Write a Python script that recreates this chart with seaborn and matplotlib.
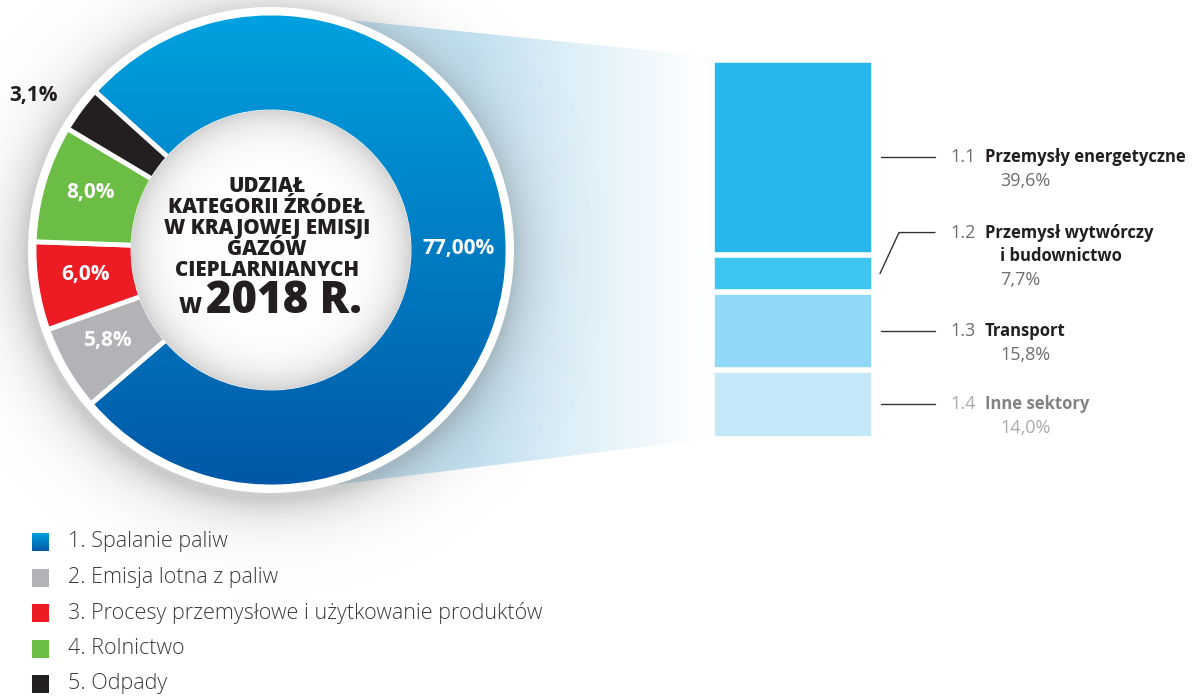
import numpy as np
import pandas as pd
import matplotlib
matplotlib.use("Agg")
import matplotlib.pyplot as plt
from matplotlib.patches import Rectangle, Polygon, Circle
from matplotlib.colors import to_rgb
import seaborn as sns

# Share of source categories in national GHG emissions, 2018 (%)
categories = ["1. Spalanie paliw", "2. Emisja lotna z paliw",
              "3. Procesy przemysłowe i użytkowanie produktów",
              "4. Rolnictwo", "5. Odpady"]
shares = [77.0, 5.8, 6.0, 8.0, 3.1]
share_labels = ["77,00%", "5,8%", "6,0%", "8,0%", "3,1%"]
category_colors = ["#0a8fd6", "#b1b3b6", "#ed1c24", "#6cbd45", "#231f20"]

# Fuel combustion split by sector (%)
sector_codes = ["1.1", "1.2", "1.3", "1.4"]
sector_names = [["Przemysły energetyczne"], ["Przemysł wytwórczy", "i budownictwo"],
                ["Transport"], ["Inne sektory"]]
sector_shares = [39.6, 7.7, 15.8, 14.0]
sector_labels = ["39,6%", "7,7%", "15,8%", "14,0%"]
sector_colors = ["#28b7ea", "#3ec6f2", "#8fd8f6", "#c6e9f9"]

title_lines = ["UDZIAŁ", "KATEGORII ŹRÓDEŁ", "W KRAJOWEJ EMISJI", "GAZÓW", "CIEPLARNIANYCH"]
title_prefix = "W"
title_year = "2018 R."

sns.set_theme(style="white")
plt.rcParams["font.family"] = ["Open Sans", "DejaVu Sans"]

W, H = 1199, 698
fig = plt.figure(figsize=(W / 100, H / 100), dpi=100)
ax = fig.add_axes([0, 0, 1, 1])


def Y(y):
    """Flip a top-down pixel row into the axes' bottom-up coordinate."""
    return H - y


CX, CY = 271, Y(250)
R_OUT, R_IN, R_RIM = 237, 138, 243

# --- funnel linking the donut with the sector bar -------------------------
funnel = Polygon([(300, Y(15)), (715, Y(57)), (715, Y(438)), (300, Y(489))],
                 closed=True, fc="none", ec="none")
ax.add_patch(funnel)
xs = np.linspace(300, 715, 400)
t = np.clip((xs - 470) / (705 - 470), 0, 1)
c0 = np.array(to_rgb("#c4e2f2"))
row = c0[None, :] + (1 - c0)[None, :] * t[:, None]
fimg = np.repeat(row[None, :, :], 2, axis=0)
im = ax.imshow(fimg, extent=(300, 715, Y(489), Y(15)), origin="upper",
               aspect="auto", zorder=0.1, interpolation="bilinear")
im.set_clip_path(funnel)

# --- soft drop shadow around the donut ------------------------------------
gx, gy = np.meshgrid(np.arange(0, 620), np.arange(0, 620))
r = np.hypot(gx - (CX - 2), gy - (250 + 6))
alpha = np.clip(0.32 * np.exp(-(r - R_RIM) / 22.0), 0, 0.32)
shadow = np.zeros((620, 620, 4))
shadow[..., :3] = 0.38
shadow[..., 3] = alpha
ax.imshow(shadow, extent=(0, 620, Y(620), Y(0)), origin="upper",
          aspect="auto", zorder=0.2, interpolation="bilinear")

ax.add_patch(Circle((CX, CY), R_RIM, fc="white", ec="none", zorder=0.3))

# --- donut ----------------------------------------------------------------
wedges, _ = ax.pie(shares, colors=category_colors, startangle=138,
                   counterclock=False, radius=R_OUT, center=(CX, CY),
                   wedgeprops=dict(width=R_OUT - R_IN, edgecolor="white",
                                   linewidth=3.5, zorder=1))

# vertical blue gradient for the fuel combustion slice
g = np.linspace(0, 1, 256)[:, None, None]
top, bot = np.array(to_rgb("#00a1e0")), np.array(to_rgb("#0058a7"))
bimg = top + (bot - top) * g
bim = ax.imshow(bimg, extent=(CX - R_OUT, CX + R_OUT, CY - R_OUT, CY + R_OUT),
                origin="upper", aspect="auto", zorder=0.9, interpolation="bilinear")
bim.set_clip_path(wedges[0])
wedges[0].set_facecolor("none")

# inner disc with a shaded rim
n = 400
dx, dy = np.meshgrid(np.linspace(-1, 1, n), np.linspace(-1, 1, n))
rr = np.hypot(dx, dy)
v = 1 - 0.17 * np.clip(rr, 0, 1) ** 7
dimg = np.dstack([v, v, v])
disc = Circle((CX, CY), R_IN + 2, fc="none", ec="none")
ax.add_patch(disc)
dim = ax.imshow(dimg, extent=(CX - R_IN - 2, CX + R_IN + 2, CY - R_IN - 2, CY + R_IN + 2),
                origin="upper", aspect="auto", zorder=2, interpolation="bilinear")
dim.set_clip_path(disc)

# slice value labels
for w, lab, val in zip(wedges, share_labels, shares):
    mid = np.deg2rad((w.theta1 + w.theta2) / 2)
    if val < 4:
        rad = 268
        ax.text(CX + rad * np.cos(mid) + 2, CY + rad * np.sin(mid) - 5, lab,
                ha="right", va="center", fontsize=15, fontweight="bold",
                color="#231f20", zorder=3)
    else:
        rad = 188
        ax.text(CX + rad * np.cos(mid), CY + rad * np.sin(mid) + 4, lab,
                ha="center", va="center", fontsize=15, fontweight="bold",
                color="white", zorder=3)

# centre title
tx = 267
for i, line in enumerate(title_lines):
    ax.text(tx, Y(186 + i * 21.2), line, ha="center", va="center",
            fontsize=14.8, fontweight="heavy", color="#231f20", zorder=3)
ax.text(202, Y(313), title_prefix, ha="right", va="baseline",
        fontsize=16, fontweight="heavy", color="#231f20", zorder=3)
ax.text(206, Y(313), title_year, ha="left", va="baseline",
        fontsize=31.5, fontweight="heavy", color="#231f20", zorder=3)

# --- stacked sector bar (seaborn) ------------------------------------------
bx0, bx1, by0, by1 = 712.2, 873.8, 60.2, 438.8
bax = fig.add_axes([bx0 / W, (H - by1) / H, (bx1 - bx0) / W, (by1 - by0) / H])
tops = np.cumsum(sector_shares[::-1])[::-1]
bars = pd.DataFrame({"grupa": ["1"] * len(sector_codes),
                     "sektor": sector_codes, "szczyt": tops})
sns.barplot(data=bars, x="grupa", y="szczyt", hue="sektor", hue_order=sector_codes,
            palette=sector_colors, dodge=False, width=1, saturation=1,
            edgecolor="white", linewidth=4, legend=False, ax=bax)
bax.set_xlim(-0.5, 0.5)
bax.set_ylim(0, tops[0])
bax.axis("off")

# leader lines and sector labels
centers = tops - np.array(sector_shares) / 2
for i, (code, names, lab) in enumerate(zip(sector_codes, sector_names, sector_labels)):
    _, yc = bax.transData.transform((0, centers[i]))
    faded = code == "1.4"
    if len(names) > 1:
        ly = yc + 41
        ax.plot([880, 899, 935], [yc, ly, ly], color="#333333", lw=1, zorder=3)
    else:
        ly = yc
        ax.plot([881, 935], [ly, ly], color="#333333", lw=1, zorder=3)
    ax.text(950, ly, code, ha="left", va="center", fontsize=13,
            color="#a7a9ac" if faded else "#6d6e71", zorder=3)
    for j, nm in enumerate(names):
        ax.text(985 if j == 0 else 1000, ly - j * 23, nm, ha="left", va="center",
                fontsize=12, fontweight="bold",
                color="#808285" if faded else "#231f20", zorder=3)
    ax.text(1000, ly - len(names) * 23.5, lab, ha="left", va="center", fontsize=13,
            color="#a7a9ac" if faded else "#6d6e71", zorder=3)

# --- category legend --------------------------------------------------------
for i, (cat, col) in enumerate(zip(categories, category_colors)):
    yc = 542 + i * 35.5
    if i == 0:
        ax.imshow(bimg, extent=(32, 49, Y(yc + 9), Y(yc - 9)), origin="upper",
                  aspect="auto", zorder=3, interpolation="bilinear")
    else:
        ax.add_patch(Rectangle((32, Y(yc + 9)), 17, 18, fc=col, ec="none", zorder=3))
    ax.text(68, Y(yc), cat, ha="left", va="center", fontsize=15.5,
            fontweight="light", color="#3a3a3a", zorder=3)

ax.set_xlim(0, W)
ax.set_ylim(0, H)
ax.set_aspect("auto")
ax.axis("off")

fig.savefig("out.png", dpi=100)
